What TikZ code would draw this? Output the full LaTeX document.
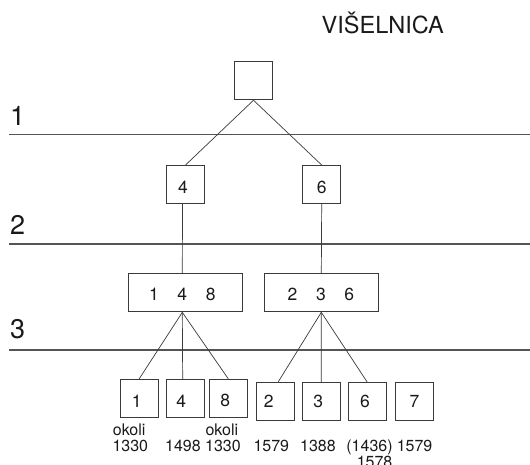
\documentclass[tikz,border=0pt]{standalone}
\usepackage{fontspec}
\setmainfont{TeX Gyre Heros}
\definecolor{textc}{HTML}{1A1A1A}
\definecolor{boxc}{HTML}{3A3A3A}
\definecolor{linec}{HTML}{555555}
\begin{document}
\begin{tikzpicture}[x=1pt,y=-1pt,
  box/.style={draw=boxc, line width=0.9pt, minimum width=38pt, minimum height=38pt, inner sep=0pt},
  wide/.style={box, minimum width=114pt},
  dig/.style={font=\fontsize{17.5}{20}\selectfont, text=textc, inner sep=0pt},
  conn/.style={draw=boxc, line width=0.7pt},
  level/.style={draw=linec, line width=1.1pt},
  lab/.style={anchor=base west, inner sep=0pt, font=\fontsize{16}{18}\selectfont, text=textc},
  lvl/.style={anchor=base west, inner sep=0pt, font=\fontsize{27}{30}\selectfont, text=textc},
  title/.style={anchor=base west, inner sep=0pt, font=\fontsize{23.5}{26}\selectfont, text=textc}]
\useasboundingbox (0,0) rectangle (530,465);
\fill[white] (0,0) rectangle (530,465);

% title
\node[title] (ttl) at (321.5,34) {VIŠELNICA};

% level rules and labels
\draw[level] (9,134.5) -- (530,134.5);
\draw[level] (9,244) -- (530,244);
\draw[level] (9,350) -- (530,350);
\node[lvl] (l1) at (10,125.5) {1};
\node[lvl] (l2) at (10,234) {2};
\node[lvl] (l3) at (10,338) {3};

% boxes
\node[box] (top) at (253.5,80.8) {};
\node[box, label={[dig,xshift=-2.5pt,yshift=-3pt]center:4}] (b4) at (185.5,184.5) {};
\node[box, label={[dig,yshift=-3pt]center:6}] (b6) at (321.7,184.5) {};
\node[wide, label={[dig,xshift=-3pt,yshift=-1.6pt]center:1\hspace{18.6pt}4\hspace{18.6pt}8}] (b148) at (185.3,292.9) {};
\node[wide, label={[dig,xshift=-0.4pt,yshift=-1.6pt]center:2\hspace{18.6pt}3\hspace{18.6pt}6}] (b236) at (321.3,292.9) {};

\node[box, label={[dig,xshift=-2.5pt,yshift=-2.5pt]center:1}] (c1) at (139.2,398.3) {};
\node[box, label={[dig,xshift=-4pt,yshift=-2.5pt]center:4}] (c4) at (185.2,398.3) {};
\node[box, label={[dig,xshift=-3pt,yshift=-2.5pt]center:8}] (c8) at (228.3,398.3) {};
\node[box, label={[dig,xshift=-7pt,yshift=0pt]center:2}] (c2) at (275.8,401.2) {};
\node[box, label={[dig,xshift=-3pt]center:3}] (c3) at (321.2,401.2) {};
\node[box, label={[dig,xshift=-2pt]center:6}] (c6) at (367,401.2) {};
\node[box, label={[dig]center:7}] (c7) at (414.5,401.2) {};

% connectors
\draw[conn] (top.south) -- (b4.north);
\draw[conn] (top.south) -- (b6.north);
\draw[conn] ([xshift=-3pt]b4.south) -- ([xshift=-3pt]b148.north);
\draw[conn] (b6.south) -- (b236.north);
\draw[conn] ([xshift=-3pt]b148.south) -- (c1.north);
\draw[conn] ([xshift=-3pt]b148.south) -- ([xshift=-2.5pt]c4.north);
\draw[conn] ([xshift=-3pt]b148.south) -- (c8.north);
\draw[conn] (b236.south) -- ([xshift=2.5pt]c2.north);
\draw[conn] (b236.south) -- (c3.north);
\draw[conn] (b236.south) -- (c6.north);

% dates
\node[lab] (d1a) at (112.7,435) {okoli};
\node[lab] (d1b) at (112.3,451) {1330};
\node[lab] (d4) at (165,451) {1498};
\node[lab] (d8a) at (205.4,435) {okoli};
\node[lab] (d8b) at (205,451) {1330};
\node[lab] (d2) at (253.3,451.7) {1579};
\node[lab] (d3) at (300,451.7) {1388};
\node[lab] (d6a) at (346.2,451.7) {(1436)};
\node[lab] (d6b) at (356.6,467) {1578};
\node[lab] (d7) at (396.6,451.7) {1579};
\end{tikzpicture}
\end{document}
